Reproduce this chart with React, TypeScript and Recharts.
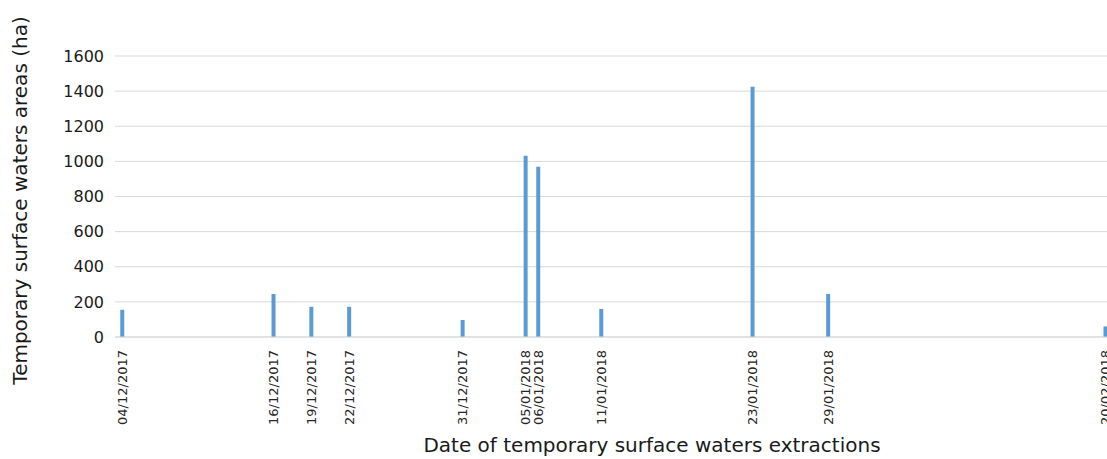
import { BarChart, Bar, XAxis, YAxis, CartesianGrid, Label } from "recharts";

// extraction dates and temporary surface water areas (ha)
const dates = [
  "04/12/2017", "16/12/2017", "19/12/2017", "22/12/2017", "31/12/2017",
  "05/01/2018", "06/01/2018", "11/01/2018", "23/01/2018", "29/01/2018", "20/02/2018",
];
const areas = [155, 245, 172, 172, 97, 1032, 970, 160, 1425, 245, 60];
const yTicks = [0, 200, 400, 600, 800, 1000, 1200, 1400, 1600];

const FONT = "'DejaVu Sans', Verdana, sans-serif";
const BAR_COLOR = "#5b9bd5";

const toDay = (s: string) => {
  const [d, m, y] = s.split("/").map(Number);
  return Date.UTC(y, m - 1, d) / 86400000;
};
const day0 = toDay(dates[0]);
const data = dates.map((date, i) => ({ day: toDay(date) - day0, label: date, area: areas[i] }));
const dayTicks = data.map((d) => d.day);
const labelByDay: Record<number, string> = {};
data.forEach((d) => (labelByDay[d.day] = d.label));

const DateTick = ({ x, y, payload }: any) => (
  <text
    x={x}
    y={y + 5}
    transform={`rotate(-90, ${x}, ${y + 5})`}
    textAnchor="end"
    dominantBaseline="central"
    fontSize={13}
    fontFamily={FONT}
    fill="#262626"
  >
    {labelByDay[payload.value]}
  </text>
);

export default function App() {
  return (
    <div style={{ width: 1107, height: 459, overflow: "hidden" }}>
      <style>{"body{margin:0}"}</style>
      <BarChart
        width={1150}
        height={459}
        data={data}
        margin={{ top: 56, right: 19, bottom: 0, left: 0 }}
      >
        <CartesianGrid vertical={false} stroke="#d9d9d9" />
        <XAxis
          dataKey="day"
          type="number"
          domain={[-0.6, 80]}
          ticks={dayTicks}
          interval={0}
          tick={<DateTick />}
          tickLine={false}
          axisLine={{ stroke: "#d9d9d9" }}
          height={122}
          allowDataOverflow
        >
          <Label
            content={({ viewBox }: any) => (
              <text
                x={652}
                y={viewBox.y + 115}
                textAnchor="middle"
                fontSize={20}
                fontFamily={FONT}
                fill="#1a1a1a"
              >
                Date of temporary surface waters extractions
              </text>
            )}
          />
        </XAxis>
        <YAxis
          domain={[0, 1600]}
          ticks={yTicks}
          width={115}
          axisLine={false}
          tickLine={false}
          tickMargin={5}
          tick={{ fontSize: 16, fontFamily: FONT, fill: "#1a1a1a" }}
        >
          <Label
            content={({ viewBox }: any) => {
              const cx = 20;
              const cy = viewBox.y + viewBox.height / 2 + 4;
              return (
                <text
                  x={cx}
                  y={cy}
                  transform={`rotate(-90, ${cx}, ${cy})`}
                  textAnchor="middle"
                  dominantBaseline="central"
                  fontSize={20}
                  fontFamily={FONT}
                  fill="#1a1a1a"
                >
                  Temporary surface waters areas (ha)
                </text>
              );
            }}
          />
        </YAxis>
        <Bar dataKey="area" fill={BAR_COLOR} barSize={4} isAnimationActive={false} />
      </BarChart>
    </div>
  );
}
